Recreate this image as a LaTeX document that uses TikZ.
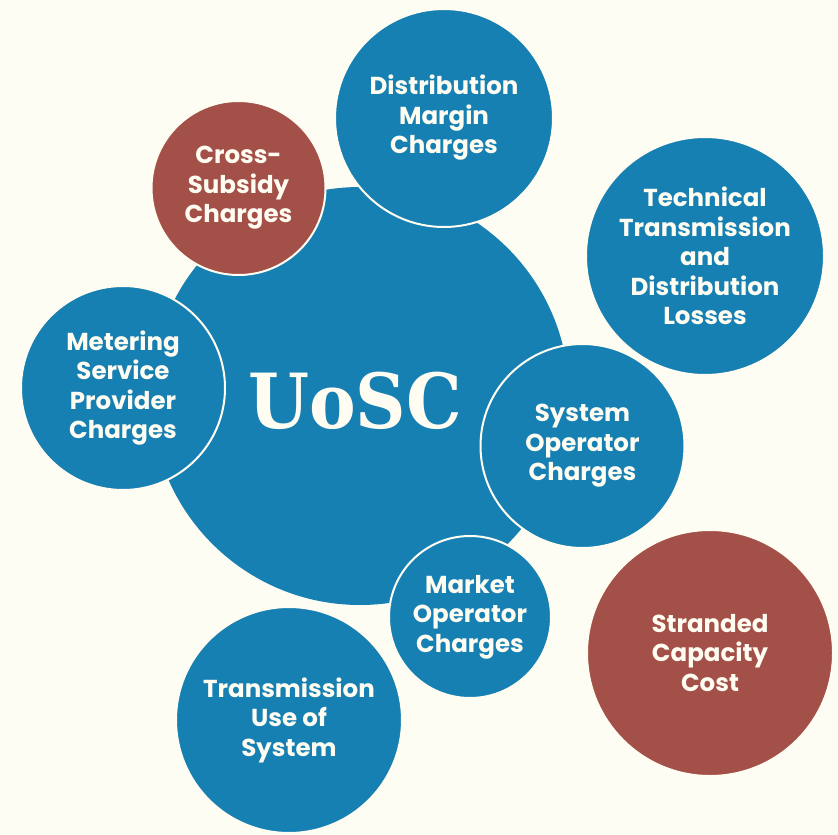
\documentclass[tikz,border=0pt]{standalone}
\usepackage{fontspec}
\setmainfont{Poppins}
\newfontfamily\titlefont{DejaVu Serif}
\definecolor{paper}{HTML}{FEFDF4}
\definecolor{ink}{HTML}{FFFDF2}
\definecolor{teal}{HTML}{1780B3}
\definecolor{brick}{HTML}{A35048}
\begin{document}
\begin{tikzpicture}[x=1pt,y=-1pt,
  bubble/.style={circle, draw=ink, line width=2pt, inner sep=0pt,
    minimum size=#1, text=ink, align=center,
    font=\fontsize{24.5}{29.5}\selectfont\bfseries},
  bluebubble/.style={bubble=#1, fill=teal},
  redbubble/.style={bubble=#1, fill=brick}]
  \fill[paper] (0,0) rectangle (838,835);
  \useasboundingbox (0,0) rectangle (838,835);

  % central bubble
  \node[bluebubble=418pt, draw=none] (uosc) at (360,396) {};
  \node[text=ink, font=\titlefont\fontsize{76}{80}\selectfont\bfseries]
    (title) at (355,401) {\scalebox{0.92}[1]{UoSC}};

  % surrounding bubbles
  \node[redbubble=174pt]  (cross) at (238.5,188) {Cross-\\Subsidy\\Charges};
  \node[bluebubble=218pt] (dist)  at (444,118)   {Distribution\\Margin\\Charges};
  \node[bluebubble=238pt] (tech)  at (705,256)   {Technical\\Transmission\\and\\Distribution\\Losses};
  \node[bluebubble=204pt] (meter) at (123,388)   {Metering\\Service\\Provider\\Charges};
  \node[bluebubble=204pt] (sysop) at (582.5,446) {System\\Operator\\Charges};
  \node[bluebubble=162pt] (mktop) at (470,617)   {Market\\Operator\\Charges};
  \node[redbubble=246pt]  (strand) at (710,653)  {Stranded\\Capacity\\Cost};
  \node[bluebubble=226pt] (tuos)  at (289,720)   {Transmission\\Use of\\System};
\end{tikzpicture}
\end{document}
